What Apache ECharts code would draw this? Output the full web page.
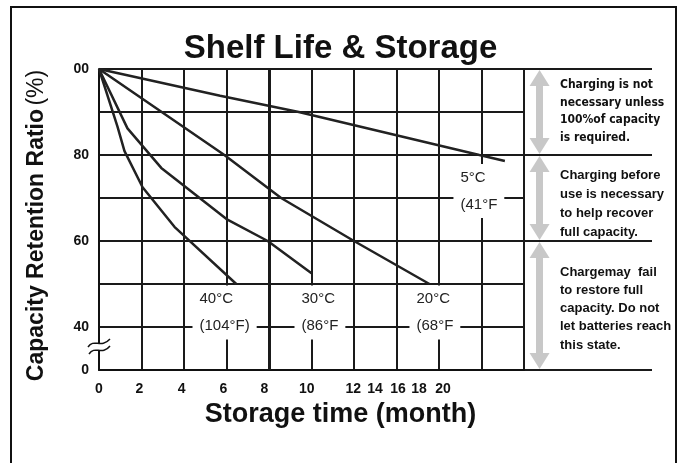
<!DOCTYPE html>
<html><head><meta charset="utf-8">
<script src="https://cdn.jsdelivr.net/npm/echarts@6/dist/echarts.min.js"></script>
<style>html,body{margin:0;padding:0;background:#fff}#c{width:681px;height:463px}</style>
</head><body><div id="c"></div>
<script>
// ---- data ----
const curveNames = ['5°C', '20°C', '30°C', '40°C'];
const curve5C  = [[0,100],[5.7,93.8],[9.4,90],[17.9,80],[19.1,78.6]];
const curve20C = [[0,100],[5.9,80],[8.57,70],[12,60],[15.55,50]];
const curve30C = [[0,100],[1.34,86.2],[2.93,77],[6,65.1],[7.94,60],[10,52.5]];
const curve40C = [[0,100],[0.87,86.6],[1.2,80.9],[2.05,72.5],[3.55,63.3],[6.46,50]];
const curveTempLabels = ['5°C\n(41°F', '20°C\n(68°F', '30°C\n(86°F', '40°C\n(104°F)'];
const xTickValues = [0,2,4,6,8,10,12,14,16,18,20];
const xTickLabels = ['0','2','4','6','8','10','12','14','16','18','20'];
const yTickLabels = {100:'00', 80:'80', 60:'60', 40:'40', 30:'0'};
const zoneRanges = [[100,80],[80,60],[60,30]];
const zoneNotes = [
  'Charging is not\nnecessary unless\n100%of capacity\nis required.',
  'Charging before\nuse is necessary\nto help recover\nfull capacity.',
  'Chargemay  fail\nto restore full\ncapacity. Do not\nlet batteries reach\nthis state.'
];

// ---- layout (not data) ----
const xLabelShift = [0,2.2,2.3,3.2,4.7,4.8,0.7,21.5,41,62.5,81];
const tempLabelAnchor = [[16.68,71.6],[14.61,43.4],[9.2,43.4],[4.4,43.4]];
const noteLayout = [{top:76, lh:17.7, condensed:true},{top:165.5, lh:19},{top:263, lh:18.25}];

const INK = '#1a1a1a';
const rich = {};
xTickValues.forEach((v,i)=>{ rich['s'+i] = {padding:[0, 2*xLabelShift[i], 0, 0], fontFamily:'Liberation Sans', fontWeight:'bold', fontSize:14, color:'#111'}; });

const curves = [curve5C, curve20C, curve30C, curve40C];
const series = curves.map((d,i)=>({
  name: curveNames[i], type:'line', data:d, symbol:'none', silent:true,
  lineStyle:{color:'#222', width:2.5},
  markPoint:{
    symbol:'rect', symbolSize:0, silent:true,
    data:[{coord:tempLabelAnchor[i], value:0}],
    label:{show:true, position:'right', distance:0, formatter:curveTempLabels[i], align:'left', verticalAlign:'middle',
      backgroundColor:'#fff', padding:[0,7,0,7], lineHeight:27, fontFamily:'Liberation Sans', fontSize:15, color:'#222'}
  }
}));
series.push({
  type:'line', data:[], silent:true,
  markLine:{symbol:'none', silent:true, label:{show:false}, lineStyle:{color:INK, width:3, type:'solid'}, data:[{xAxis:8}]}
});
const arrowInset = 2.1;
series.push({
  type:'line', data:[], xAxisIndex:1, yAxisIndex:1, silent:true,
  markLine:{
    symbol:['triangle','triangle'], symbolSize:[20,16], silent:true, label:{show:false},
    lineStyle:{color:'#c8c8c8', width:7, type:'solid', opacity:1},
    itemStyle:{color:'#c8c8c8'},
    data: zoneRanges.map(r=>[{coord:[20.73, r[0]-arrowInset]},{coord:[20.73, r[1]+arrowInset]}])
  }
});

const graphics = [
  {type:'rect', shape:{x:11, y:7, width:665, height:470}, style:{fill:'none', stroke:'#111', lineWidth:2}, silent:true, z:-1},
  {type:'rect', shape:{x:96, y:343, width:7, height:7}, style:{fill:'#fff'}, z:100},
  {type:'bezierCurve', shape:{x1:88,y1:347,cpx1:94,cpy1:338,cpx2:101,cpy2:349,x2:110,y2:339}, style:{stroke:'#111', lineWidth:1.5, fill:'none'}, z:101},
  {type:'bezierCurve', shape:{x1:89,y1:354,cpx1:95,cpy1:345,cpx2:102,cpy2:356,x2:110,y2:346}, style:{stroke:'#111', lineWidth:1.5, fill:'none'}, z:101}
];
zoneNotes.forEach((t,i)=>{
  const L = noteLayout[i];
  graphics.push({type:'text', x:560, y:L.top, silent:true, z:50, style:{
    text:t, fill:'#111', lineHeight:L.lh, verticalAlign:'top', align:'left',
    font: L.condensed ? 'bold 12px "DejaVu Sans Condensed", "Liberation Sans Narrow", "Liberation Sans"' : 'bold 13px "Liberation Sans", Arial'
  }});
});

const option = {
  animation:false,
  backgroundColor:'#fff',
  title:{text:'Shelf Life & Storage', left:'center', top:27,
    textStyle:{fontFamily:'Liberation Sans', fontWeight:'bold', fontSize:33, color:'#111'}},
  grid:[
    {left:99, top:69, width:425, height:301, containLabel:false},
    {left:524, top:69, width:128, height:301, containLabel:false}
  ],
  xAxis:[
    {type:'value', gridIndex:0, min:0, max:20, interval:2,
     axisLine:{show:true, onZero:false, lineStyle:{color:'#111', width:2}},
     axisTick:{show:false},
     splitLine:{show:true, lineStyle:{color:INK, width:2}},
     axisLabel:{margin:12, formatter:(v)=>{const i=xTickValues.indexOf(v); return i<0?'':'{s'+i+'|'+xTickLabels[i]+'}';}, rich:rich},
     name:'Storage time (month)', nameLocation:'middle', nameGap:26,
     nameTextStyle:{fontFamily:'Liberation Sans', fontWeight:'bold', fontSize:27, color:'#111', padding:[0,0,0,58]}},
    {type:'value', gridIndex:1, min:20, max:26, show:false}
  ],
  yAxis:[
    {type:'value', gridIndex:0, min:30, max:100, interval:10,
     axisLine:{show:true, lineStyle:{color:'#111', width:2}},
     axisTick:{show:false},
     splitLine:{show:true, lineStyle:{color:INK, width:2}},
     axisLabel:{margin:10, fontFamily:'Liberation Sans', fontWeight:'bold', fontSize:14, color:'#111',
       formatter:(v)=> (yTickLabels[v]!==undefined ? yTickLabels[v] : '')},
     name:'{b|Capacity Retention Ratio} {n|(%)}', nameLocation:'middle', nameRotate:90, nameGap:51,
     nameTextStyle:{padding:[0,12,0,0], rich:{
       b:{fontFamily:'Liberation Sans', fontWeight:'bold', fontSize:23, color:'#111'},
       n:{fontFamily:'Liberation Sans', fontWeight:'normal', fontSize:23, color:'#111'}}}},
    {type:'value', gridIndex:1, min:30, max:100, interval:10,
     axisLine:{show:false}, axisTick:{show:false}, axisLabel:{show:false},
     splitLine:{show:true, lineStyle:{width:2, color:[INK,'rgba(0,0,0,0)','rgba(0,0,0,0)',INK,'rgba(0,0,0,0)',INK,'rgba(0,0,0,0)',INK]}}}
  ],
  series:series,
  graphic:graphics
};
const chart = echarts.init(document.getElementById('c'), null, {renderer:'canvas'});
chart.setOption(option);
</script></body></html>
